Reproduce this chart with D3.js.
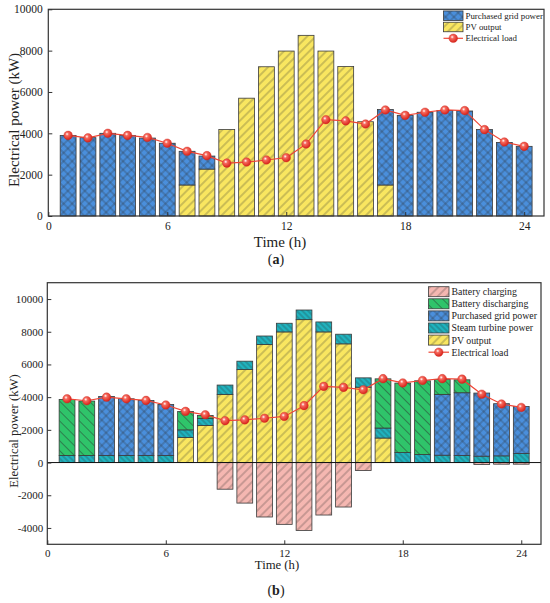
<!DOCTYPE html>
<html>
<head>
    <meta charset="utf-8">
    <title>Electrical power balance</title>
    <script src="https://cdnjs.cloudflare.com/ajax/libs/d3/7.8.5/d3.min.js"></script>
    <style>
        body { margin: 0; background: #fff; }
        svg text { font-family: 'Liberation Serif', 'Times New Roman', serif; fill: #222; }
    </style>
</head>
<body>
<div id="chart"></div>
<script>
//------------------------------------DATA--------------------------------
var hours = [1,2,3,4,5,6,7,8,9,10,11,12,13,14,15,16,17,18,19,20,21,22,23,24];
var xTicks = [0, 6, 12, 18, 24];
var yTicksA = [0, 2000, 4000, 6000, 8000, 10000];
var yTicksB = [-4000, -2000, 0, 2000, 4000, 6000, 8000, 10000];

var load = [3900,3780,4000,3900,3800,3520,3130,2920,2560,2610,2710,2820,
            3480,4660,4600,4450,5130,4870,5020,5130,5100,4180,3580,3370];

// panel (a)
var pvA   = [0,0,0,0,0,0,1500,2270,4180,5700,7220,7980,8740,7980,7230,4560,1500,0,0,0,0,0,0,0];
var gridA = [3900,3790,4000,3900,3770,3520,1630,630,0,0,0,0,0,0,0,0,3650,4870,5020,5100,5080,4180,3560,3370];

// panel (b)
var pvB        = [0,0,0,0,0,0,1530,2270,4170,5690,7220,7990,8740,7990,7260,4610,1500,0,0,0,0,0,0,0];
var steamB     = [430,430,430,430,430,430,470,420,570,510,520,530,590,610,590,570,610,610,490,450,430,390,410,550];
var gridB      = [0,0,3610,3470,3370,3120,0,0,0,0,0,0,0,0,0,0,0,0,0,3720,3840,3860,3190,2880];
var dischargeB = [3430,3330,0,0,0,0,1120,190,0,0,0,0,0,0,0,0,3010,4250,4510,910,790,0,0,0];
var chargeB    = [0,0,0,0,0,0,0,0,-1630,-2480,-3330,-3780,-4150,-3210,-2720,-490,0,0,0,0,0,-120,-100,-100];
//------------------------------------FINISHED----------------------------

var W = 550, H = 603;
var FONT = "'Liberation Serif', 'Times New Roman', serif";
var svg = d3.select("#chart").append("svg")
    .attr("width", W).attr("height", H)
    .attr("font-family", FONT);
var defs = svg.append("defs");

//------------------------------------PATTERNS--------------------------------
// hatch fill: base colour + thin dark lines at an angle
function hatch(id, color, gap, angles) {
    angles.forEach(function (a, i) {
        var p = defs.append("pattern")
            .attr("id", id + (i ? "_" + i : ""))
            .attr("patternUnits", "userSpaceOnUse")
            .attr("width", gap).attr("height", gap)
            .attr("patternTransform", "rotate(" + a + ")");
        if (i == 0) p.append("rect").attr("width", gap).attr("height", gap).attr("fill", color);
        p.append("line")
            .attr("x1", gap / 2).attr("y1", 0).attr("x2", gap / 2).attr("y2", gap)
            .attr("stroke", "#2b2b2b").attr("stroke-opacity", 0.75).attr("stroke-width", 0.6);
    });
}
hatch("pv", "#f9e660", 6, [45]);
hatch("steam", "#1fb3bf", 4, [-45]);
hatch("dis", "#2fc46a", 7, [-45]);
hatch("chg", "#f5b7b1", 6, [45]);
hatch("grid", "#4a8fdc", 6, [45, -45]);

var fills = {
    pv: ["url(#pv)"],
    steam: ["url(#steam)"],
    dis: ["url(#dis)"],
    chg: ["url(#chg)"],
    grid: ["url(#grid)", "url(#grid_1)"]
};

// shiny ball marker
var rg = defs.append("radialGradient").attr("id", "ball")
    .attr("cx", "38%").attr("cy", "35%").attr("r", "65%");
rg.append("stop").attr("offset", "0%").attr("stop-color", "#ffffff");
rg.append("stop").attr("offset", "30%").attr("stop-color", "#f66a5e");
rg.append("stop").attr("offset", "100%").attr("stop-color", "#d8231b");
//------------------------------------FINISHED----------------------------

function drawRect(g, key, x0, y0, w, h) {
    fills[key].forEach(function (f) {
        g.append("rect").attr("x", x0).attr("y", y0).attr("width", w).attr("height", h)
            .attr("fill", f);
    });
    g.append("rect").attr("x", x0).attr("y", y0).attr("width", w).attr("height", h)
        .attr("fill", "none").attr("stroke", "#3a3a3a").attr("stroke-width", 0.8);
}

//------------------------------------MAKES A PANEL--------------------------------
function panel(o) {
    var x = d3.scaleLinear().domain([0, 25]).range(o.xr);
    var y = d3.scaleLinear().domain(o.yd).range(o.yr);
    var g = svg.append("g");
    var bw = (x(1) - x(0)) * 0.8;

    // stacked bars
    var rows = hours.map(function (h, i) {
        var r = { h: h };
        o.keys.forEach(function (k) { r[k] = o.series[k][i]; });
        return r;
    });
    var stack = d3.stack().keys(o.keys).offset(d3.stackOffsetDiverging)(rows);
    var bars = g.append("g");
    stack.forEach(function (s) {
        s.forEach(function (d) {
            if (d[1] - d[0] == 0) return;
            var top = y(Math.max(d[0], d[1])), bot = y(Math.min(d[0], d[1]));
            drawRect(bars, s.key, x(d.data.h) - bw / 2, top, bw, bot - top);
        });
    });

    if (o.zeroLine) {
        g.append("line").attr("x1", o.xr[0]).attr("x2", o.xr[1])
            .attr("y1", y(0)).attr("y2", y(0))
            .attr("stroke", "#111").attr("stroke-width", 1);
    }

    // axes, ticks point inward
    var xa = g.append("g").attr("transform", "translate(0," + o.yr[0] + ")")
        .call(d3.axisBottom(x).tickValues(xTicks).tickSize(-4).tickPadding(o.xpad));
    var ya = g.append("g").attr("transform", "translate(" + o.xr[0] + ",0)")
        .call(d3.axisLeft(y).tickValues(o.yTicks).tickSize(-4).tickPadding(o.ypad)
            .tickFormat(function (d) { return d < 0 ? "-" + Math.abs(d) : String(d); }));
    [xa, ya].forEach(function (a) {
        a.attr("font-family", FONT);
        a.select(".domain").remove();
        a.selectAll("line").attr("stroke", "#333").attr("stroke-width", 1);
        a.selectAll("text").attr("font-size", o.kfs).attr("fill", "#222");
    });

    // frame
    g.append("rect").attr("x", o.xr[0]).attr("y", o.yr[1])
        .attr("width", o.xr[1] - o.xr[0]).attr("height", o.yr[0] - o.yr[1])
        .attr("fill", "none").attr("stroke", "#333").attr("stroke-width", 1.2);

    // electrical load line
    g.append("path").datum(load)
        .attr("d", d3.line().x(function (d, i) { return x(hours[i]); }).y(function (d) { return y(d); }))
        .attr("fill", "none").attr("stroke", "#ef4636").attr("stroke-width", 1.2);
    g.selectAll(".pt").data(load).enter().append("circle")
        .attr("cx", function (d, i) { return x(hours[i]); })
        .attr("cy", function (d) { return y(d); })
        .attr("r", 4.3).attr("fill", "url(#ball)")
        .attr("stroke", "#d02a20").attr("stroke-width", 0.4);

    // titles
    g.append("text").attr("transform", "translate(" + o.ytx + "," + o.yty + ") rotate(-90)")
        .attr("text-anchor", "middle").attr("dy", "0.35em")
        .attr("font-size", o.tfs).text("Electrical power (kW)");
    g.append("text").attr("x", o.xtx).attr("y", o.xty)
        .attr("text-anchor", "middle").attr("dy", "0.35em")
        .attr("font-size", o.tfs).text("Time (h)");
    var lab = g.append("text").attr("x", o.lx).attr("y", o.ly)
        .attr("text-anchor", "middle").attr("dy", "0.35em").attr("font-size", 14);
    lab.append("tspan").text("(");
    lab.append("tspan").attr("font-weight", "bold").text(o.letter);
    lab.append("tspan").text(")");

    // legend
    var lg = g.append("g");
    o.legend.forEach(function (e, i) {
        var cy = o.lgy + i * o.lgs;
        if (e.key == "load") {
            lg.append("line").attr("x1", o.lgx).attr("x2", o.lgx + o.lgw)
                .attr("y1", cy).attr("y2", cy)
                .attr("stroke", "#ef4636").attr("stroke-width", 1.2);
            lg.append("circle").attr("cx", o.lgx + o.lgw / 2).attr("cy", cy).attr("r", 4.3)
                .attr("fill", "url(#ball)").attr("stroke", "#d02a20").attr("stroke-width", 0.4);
        } else {
            drawRect(lg, e.key, o.lgx, cy - o.lgh / 2, o.lgw, o.lgh);
        }
        lg.append("text").attr("x", o.lgx + o.lgw + 2.5).attr("y", cy).attr("dy", "0.35em")
            .attr("font-size", o.lfs).text(e.name);
    });
}
//------------------------------------FINISHED----------------------------

panel({
    xr: [48.3, 544], yr: [216, 9.3], yd: [0, 10000], yTicks: yTicksA,
    keys: ["pv", "grid"], series: { pv: pvA, grid: gridA },
    xpad: 6, ypad: 5.5, zeroLine: false, kfs: 11.5,
    ytx: 14, yty: 120, xtx: 280, xty: 242, tfs: 15,
    lx: 276, ly: 259, letter: "a",
    lgx: 443.5, lgy: 15.7, lgs: 11.3, lgw: 19.5, lgh: 9.5, lfs: 8.9,
    legend: [
        { key: "grid", name: "Purchased grid power" },
        { key: "pv", name: "PV output" },
        { key: "load", name: "Electrical load" }
    ]
});

panel({
    xr: [47.3, 541], yr: [544.3, 282.7], yd: [-5000, 11000], yTicks: yTicksB,
    keys: ["pv", "steam", "grid", "dis", "chg"],
    series: { pv: pvB, steam: steamB, grid: gridB, dis: dischargeB, chg: chargeB },
    xpad: 5, ypad: 4, zeroLine: true, kfs: 11,
    ytx: 14, yty: 431, xtx: 277, xty: 565, tfs: 12.7,
    lx: 276, ly: 590, letter: "b",
    lgx: 428.5, lgy: 291.7, lgs: 12.1, lgw: 20.5, lgh: 10, lfs: 9.8,
    legend: [
        { key: "chg", name: "Battery charging" },
        { key: "dis", name: "Battery discharging" },
        { key: "grid", name: "Purchased grid power" },
        { key: "steam", name: "Steam turbine power" },
        { key: "pv", name: "PV output" },
        { key: "load", name: "Electrical load" }
    ]
});
</script>
</body>
</html>
